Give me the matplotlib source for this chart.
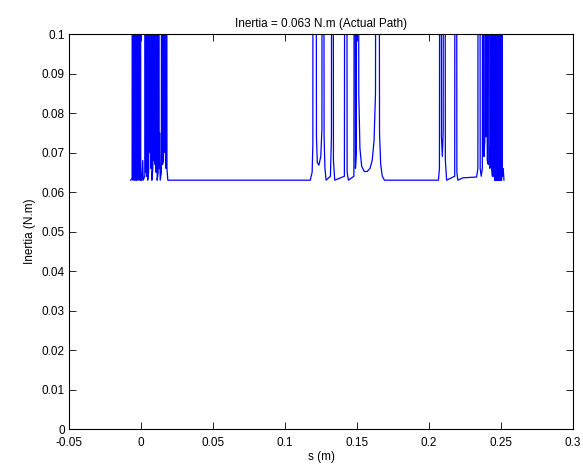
import matplotlib
matplotlib.use("Agg")
import matplotlib.pyplot as plt

plt.rcParams['font.family'] = ['Liberation Sans', 'DejaVu Sans']
plt.rcParams['font.size'] = 8.5

# chemin mesure : inertie (N.m) en fonction de s (m), pics coupes par la limite 0.1
s_debut = [-0.0072, -0.0062, -0.0059, -0.0056, -0.0054, -0.0051, -0.0049, -0.0046,
           -0.0044, -0.0041, -0.0039, -0.0036, -0.0034, -0.0032, -0.0029, -0.0026,
           -0.0023, -0.0020, -0.0017, -0.0014, -0.0011, -0.0008, -0.0005, -0.0002,
           0.0005, 0.0012, 0.0015, 0.0026, 0.0029, 0.0032, 0.0035, 0.0039, 0.0042,
           0.0046, 0.0053, 0.0056, 0.0060, 0.0064, 0.0068, 0.0071, 0.0075, 0.0082,
           0.0085, 0.0089, 0.0093, 0.0097, 0.0101, 0.0105, 0.0108, 0.0112, 0.0119,
           0.0122, 0.0126, 0.0129, 0.0133, 0.0141, 0.0145, 0.0149, 0.0156, 0.0160,
           0.0165, 0.0169, 0.0173, 0.0176, 0.0180, 0.0186]
i_debut = [0.063, 0.0635, 0.3, 0.063, 0.3, 0.064, 0.3, 0.063,
           0.3, 0.064, 0.3, 0.063, 0.085, 0.063, 0.3, 0.064,
           0.3, 0.063, 0.3, 0.064, 0.3, 0.063, 0.3, 0.063,
           0.063, 0.068, 0.063, 0.064, 0.3, 0.065, 0.088, 0.064, 0.3,
           0.063, 0.065, 0.3, 0.070, 0.082, 0.066, 0.3, 0.063, 0.066,
           0.3, 0.068, 0.3, 0.067, 0.072, 0.065, 0.3, 0.063, 0.065,
           0.3, 0.066, 0.075, 0.063, 0.065, 0.3, 0.067, 0.068, 0.3,
           0.070, 0.077, 0.066, 0.3, 0.066, 0.063]

s_milieu = [0.1175, 0.1188, 0.1193, 0.1196, 0.1212, 0.1218, 0.1224, 0.1235, 0.1248,
            0.1256, 0.1261, 0.1266, 0.1271, 0.1277, 0.1285, 0.1315, 0.1322, 0.1326,
            0.1331, 0.1336, 0.1345, 0.1412, 0.1419, 0.1425, 0.1431, 0.1440, 0.1478,
            0.1485, 0.1489, 0.1495, 0.1500, 0.1506, 0.1512, 0.1520, 0.1532, 0.1550,
            0.1570, 0.1590, 0.1605, 0.1618, 0.1628, 0.1636, 0.1648, 0.1656, 0.1664,
            0.1675, 0.1690]
i_milieu = [0.063, 0.065, 0.072, 0.3, 0.3, 0.074, 0.0675, 0.0668, 0.069,
            0.076, 0.3, 0.3, 0.074, 0.066, 0.063, 0.064, 0.074, 0.3,
            0.3, 0.068, 0.063, 0.064, 0.3, 0.3, 0.065, 0.063, 0.064,
            0.3, 0.066, 0.070, 0.3, 0.3, 0.085, 0.071, 0.0665, 0.0652,
            0.0652, 0.066, 0.068, 0.073, 0.085, 0.3, 0.3, 0.075, 0.067,
            0.064, 0.063]

s_fin = [0.2065, 0.2072, 0.2077, 0.2080, 0.2086, 0.2092, 0.2098, 0.2102, 0.2107,
         0.2113, 0.2122, 0.2178, 0.2183, 0.2188, 0.2193, 0.2200, 0.2235, 0.2330,
         0.2339, 0.2343, 0.2350, 0.2355, 0.2362, 0.2370, 0.2374, 0.2378, 0.2382,
         0.2387, 0.2391, 0.2396, 0.2399, 0.2404, 0.2411, 0.2417, 0.2422, 0.2427,
         0.2431, 0.2435, 0.2440, 0.2446, 0.2449, 0.2452, 0.2455, 0.2458, 0.2461,
         0.2464, 0.2467, 0.2470, 0.2473, 0.2476, 0.2479, 0.2482, 0.2485, 0.2488,
         0.2491, 0.2494, 0.2497, 0.2500, 0.2503, 0.2506, 0.2509, 0.2515, 0.2520]
i_fin = [0.063, 0.066, 0.3, 0.3, 0.074, 0.069, 0.075, 0.3, 0.3,
         0.068, 0.063, 0.064, 0.3, 0.3, 0.065, 0.063, 0.0636, 0.0638,
         0.066, 0.3, 0.3, 0.066, 0.064, 0.066, 0.3, 0.072, 0.069,
         0.073, 0.3, 0.074, 0.3, 0.068, 0.067, 0.3, 0.066, 0.072,
         0.3, 0.066, 0.064, 0.3, 0.064, 0.3, 0.063, 0.3, 0.063,
         0.3, 0.063, 0.3, 0.063, 0.3, 0.063, 0.3, 0.063, 0.3,
         0.063, 0.3, 0.063, 0.3, 0.063, 0.3, 0.064, 0.066, 0.063]

x_ticks = [-0.05, 0, 0.05, 0.1, 0.15, 0.2, 0.25, 0.3]
x_labels = ['-0.05', '0', '0.05', '0.1', '0.15', '0.2', '0.25', '0.3']
y_ticks = [0, 0.01, 0.02, 0.03, 0.04, 0.05, 0.06, 0.07, 0.08, 0.09, 0.1]
y_labels = ['0', '0.01', '0.02', '0.03', '0.04', '0.05', '0.06', '0.07', '0.08', '0.09', '0.1']

s_tout = s_debut + s_milieu + s_fin
i_tout = i_debut + i_milieu + i_fin

fig = plt.figure(figsize=(5.83, 4.73), dpi=100)
ax = fig.add_axes([0.1184, 0.093, 0.8646, 0.835])

ax.plot(s_tout, i_tout, color='#0000ff', linewidth=0.9)

ax.set_xlim(-0.05, 0.3)
ax.set_ylim(0, 0.1)
ax.set_xticks(x_ticks)
ax.set_xticklabels(x_labels)
ax.set_yticks(y_ticks)
ax.set_yticklabels(y_labels)
ax.tick_params(direction='in', length=5, width=0.6, top=True, right=True, pad=3)
ax.tick_params(axis='x', pad=6)
for sp in ax.spines.values():
    sp.set_linewidth(0.8)

ax.set_title('Inertia = 0.063 N.m (Actual Path)', fontsize=8.5, pad=5)
ax.set_xlabel('s (m)', labelpad=1)
ax.set_ylabel('Inertia (N.m)', labelpad=4)

fig.savefig('out.png', dpi=100)
